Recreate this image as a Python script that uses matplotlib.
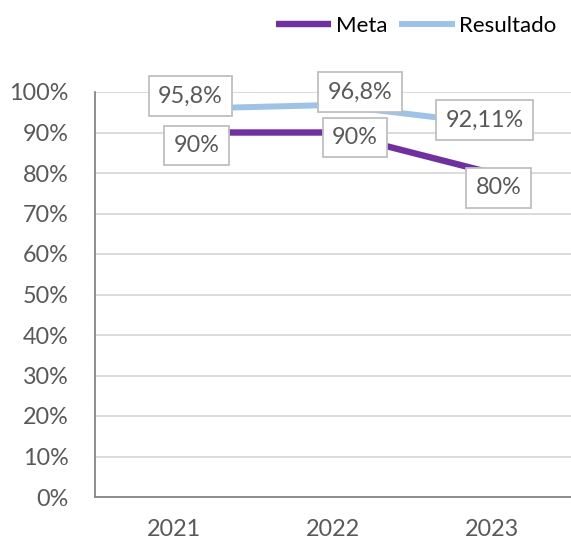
import matplotlib
matplotlib.use("Agg")
import matplotlib.pyplot as plt

# data
years = ["2021", "2022", "2023"]
meta = [0.90, 0.90, 0.80]
resultado = [0.958, 0.968, 0.9211]
meta_labels = ["90%", "90%", "80%"]
resultado_labels = ["95,8%", "96,8%", "92,11%"]

# label offsets from the point, in pixels (x right, y up)
meta_offsets = [(22, -13), (22, -5), (7, -15)]
resultado_offsets = [(16, 13), (27, 13), (-7, 4)]

plt.rcParams['font.family'] = ['Lato', 'DejaVu Sans']

fig = plt.figure(figsize=(5.71, 5.42), dpi=100)
ax = fig.add_axes([95 / 571, 45 / 542, 476 / 571, 405 / 542])

x = list(range(len(years)))
ax.plot(x, resultado, color='#9DC3E6', linewidth=4.3, solid_capstyle='butt',
        label='Resultado', zorder=3)
ax.plot(x, meta, color='#7030A0', linewidth=4.6, solid_capstyle='butt',
        label='Meta', zorder=4)

box = dict(boxstyle='square,pad=0.4', facecolor='white', edgecolor='#BFBFBF', linewidth=1.3)
for xi, v, lab, off in zip(x, resultado, resultado_labels, resultado_offsets):
    ax.annotate(lab, (xi, v), xytext=off, textcoords='offset pixels',
                ha='center', va='center', fontsize=16.8, color='#595959',
                bbox=box, zorder=6)
for xi, v, lab, off in zip(x, meta, meta_labels, meta_offsets):
    ax.annotate(lab, (xi, v), xytext=off, textcoords='offset pixels',
                ha='center', va='center', fontsize=16.8, color='#595959',
                bbox=box, zorder=6)

ax.set_xlim(-0.5, 2.5)
ax.set_ylim(0, 1.0)
ax.set_xticks(x)
ax.set_xticklabels(years)
yt = [i / 10 for i in range(11)]
ax.set_yticks(yt)
ax.set_yticklabels([f"{int(round(v * 100))}%" for v in yt])
ax.tick_params(axis='both', length=0, labelsize=16.8, colors='#595959')
ax.tick_params(axis='y', pad=19)
ax.tick_params(axis='x', pad=16)

ax.grid(axis='y', color='#D9D9D9', linewidth=1.3)
ax.set_axisbelow(True)
for s in ['top', 'right']:
    ax.spines[s].set_visible(False)
for s in ['left', 'bottom']:
    ax.spines[s].set_color('#868686')
    ax.spines[s].set_linewidth(1.3)

handles, labels = ax.get_legend_handles_labels()
fig.legend(handles[::-1], labels[::-1], loc='center right',
           bbox_to_anchor=(0.975, 0.952), ncol=2, frameon=False,
           fontsize=16, handlelength=2.5, handletextpad=0.2,
           columnspacing=0.55, borderpad=0, borderaxespad=0)

plt.savefig('out.png', dpi=100)
plt.close()
